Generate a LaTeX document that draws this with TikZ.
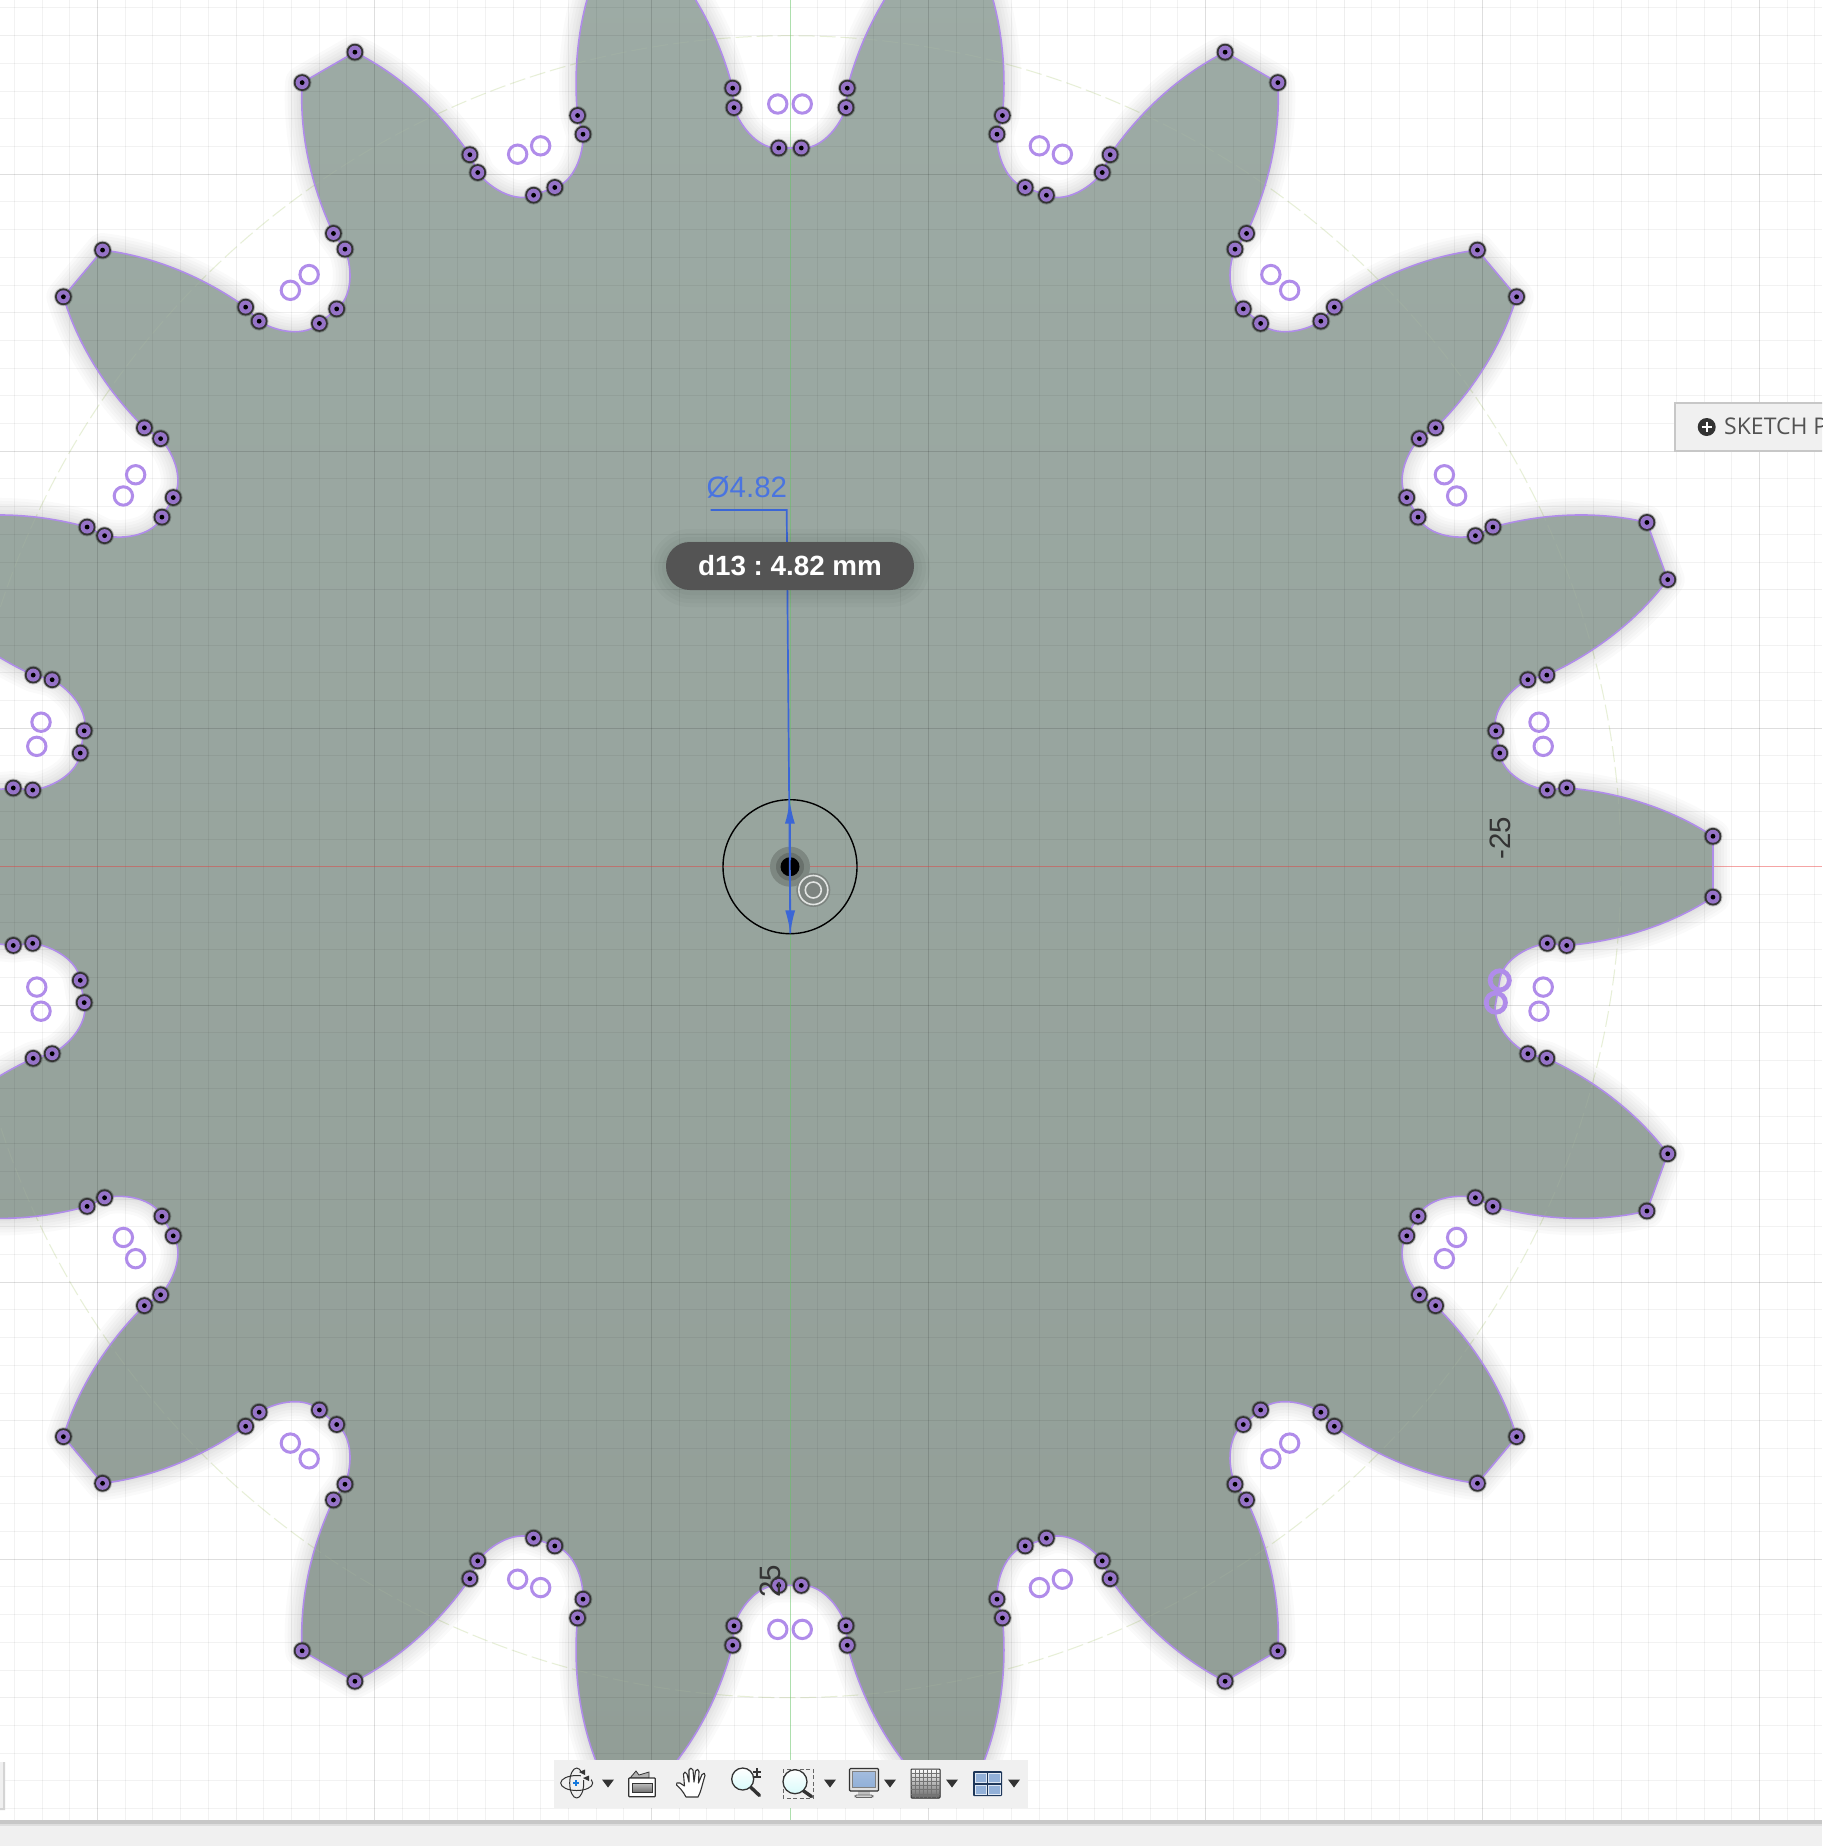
\documentclass[tikz,border=0pt]{standalone}
\usepackage{fontspec}
\setmainfont{Liberation Sans}
\newfontfamily\uifont{Open Sans}
\usetikzlibrary{arrows.meta}
\definecolor{gearT}{HTML}{9DABA5}
\definecolor{gearB}{HTML}{929E97}
\definecolor{sketchp}{HTML}{B08CEA}
\definecolor{dotp}{HTML}{9673C8}
\definecolor{dimblue}{HTML}{3B66D6}
\definecolor{dimtext}{HTML}{4A74E0}
\definecolor{panel}{HTML}{F0F0F0}
\definecolor{ink}{HTML}{333333}
\definecolor{paneblue}{HTML}{92B0D8}
\definecolor{pitch}{HTML}{CDDEAA}
\definecolor{axisg}{HTML}{6ED26E}
\tikzset{
  gear outline/.style={insert path={(-1.89:923.5)
    \foreach \A in {0,20,...,340}{
      -- ({\A+1.89}:923.5)
      .. controls ({\A+3.91}:880) and ({\A+5.19}:828.4) .. ({\A+5.79}:780.7)
      -- ({\A+5.78}:761.2)
      .. controls ({\A+6.21}:739.3) and ({\A+7.6}:718.2) .. ({\A+9.1}:718.8)
      -- ({\A+10.9}:718.8)
      .. controls ({\A+12.4}:718.2) and ({\A+13.79}:739.3) .. ({\A+14.22}:761.2)
      -- ({\A+14.21}:780.7)
      .. controls ({\A+14.81}:828.4) and ({\A+16.09}:880) .. ({\A+18.11}:923.5)
    } -- cycle}},
  glow/.style={draw=black,draw opacity=.02,line width=#1,line join=round},
  ringmark/.style={draw=sketchp,line width=3pt,fill=none},
  thickring/.style={draw=sketchp,line width=4.8pt,fill=none},
  tbtri/.style={fill=ink,draw=none},
  tbline/.style={draw=ink,line width=1.1pt,line join=round},
  dimline/.style={draw=dimblue,line width=1.7pt},
  dimhead/.style={dimline,-{Latex[length=23pt,width=10pt]}},
  axislabel/.style={text=ink,font=\fontsize{29.5}{32}\selectfont,rotate=90,inner sep=0pt},
}
\newcommand{\tbtriangle}[1]{\fill[tbtri] (#1-6,1779.5) -- (#1+6,1779.5) -- (#1,1787.5) -- cycle;}
\begin{document}
\frenchspacing
\begin{tikzpicture}[x=1pt,y=-1pt]
\path[use as bounding box] (0,0) rectangle (1822,1846);
\clip (0,0) rectangle (1822,1846);
\fill[white] (0,0) rectangle (1822,1846);

% pitch circle as seen on the white
\draw[pitch,opacity=.4,line width=1pt,dash pattern=on 16pt off 5pt] (790,866.7) circle[radius=831pt];

% gear shadow + body
\begin{scope}[shift={(790,866.7)}]
  \foreach \w in {34,28,22,16,10,5}{\path[gear outline,glow=\w pt];}
  \path[gear outline,top color=gearT,bottom color=gearB];
\end{scope}

% grid on top of everything so that it shows through the gear
\foreach \k in {-29,...,37}{
  \pgfmathsetmacro{\gx}{790+27.7*\k}
  \pgfmathtruncatemacro{\mten}{mod(\k+100,10)}
  \pgfmathtruncatemacro{\mfive}{mod(\k+100,5)}
  \ifnum\mten=5
    \draw[black,opacity=.13,line width=1.2pt] (\gx,0) -- (\gx,1820);
  \else\ifnum\mfive=0
    \draw[black,opacity=.065,line width=1pt] (\gx,0) -- (\gx,1820);
  \else
    \draw[black,opacity=.05,line width=1pt] (\gx,0) -- (\gx,1820);
  \fi\fi
}
\foreach \k in {-32,...,35}{
  \pgfmathsetmacro{\gy}{866.7+27.7*\k}
  \pgfmathtruncatemacro{\mten}{mod(\k+100,10)}
  \pgfmathtruncatemacro{\mfive}{mod(\k+100,5)}
  \ifnum\mten=5
    \draw[black,opacity=.13,line width=1.2pt] (0,\gy) -- (1822,\gy);
  \else\ifnum\mfive=0
    \draw[black,opacity=.065,line width=1pt] (0,\gy) -- (1822,\gy);
  \else
    \draw[black,opacity=.05,line width=1pt] (0,\gy) -- (1822,\gy);
  \fi\fi
}
% axes
\draw[red!75!white,opacity=.42,line width=1pt] (0,866.7) -- (1822,866.7);
\draw[axisg,opacity=.5,line width=1pt] (790,0) -- (790,1820);

\begin{scope}[shift={(790,866.7)}]
  % pitch circle, faint on the gear
  \draw[pitch,opacity=.1,line width=1pt,dash pattern=on 16pt off 5pt] (0,0) circle[radius=831pt];
  % outline
  \path[gear outline,draw=sketchp,line width=1.6pt,line join=round];
  % sketch points
  \foreach \A in {0,20,...,340}{
    \foreach \d/\r in {-1.89/923.5,1.89/923.5,5.79/780.7,5.78/761.2,9.1/718.8,10.9/718.8,14.22/761.2,14.21/780.7}{
      \pgfmathtruncatemacro{\skipit}{(\A==0 && (\d==9.1 || \d==10.9)) ? 1 : 0}
      \ifnum\skipit=0
        \fill[black,opacity=.22] ({\A+\d}:\r) circle[radius=9.4pt];
        \fill[ink] ({\A+\d}:\r) circle[radius=8.4pt];
        \fill[dotp] ({\A+\d}:\r) circle[radius=6.5pt];
        \fill[black] ({\A+\d}:\r) circle[radius=2.4pt];
      \fi
    }
    \draw[ringmark] ({\A+9.08}:762.8) circle[radius=9.2pt];
    \draw[ringmark] ({\A+10.92}:762.8) circle[radius=9.2pt];
  }
  \draw[thickring] (9.1:718.8) circle[radius=9.6pt];
  \draw[thickring] (10.9:718.8) circle[radius=9.6pt];
\end{scope}

% axis labels
\node[axislabel] (labx) at (1500,838) {-25};
\node[axislabel] (laby) at (770,1581.5) {25};

% centre marks
\fill[color={rgb,255:red,125;green,135;blue,129}] (790,866.7) circle[radius=20pt];
\fill[color={rgb,255:red,105;green,113;blue,108}] (790,866.7) circle[radius=14pt];
\fill[black] (790,866.7) circle[radius=9.5pt];
\fill[color={rgb,255:red,125;green,132;blue,128}] (813.3,890) circle[radius=17pt];
\draw[color={rgb,255:red,225;green,228;blue,226},line width=1.6pt] (813.3,890) circle[radius=14.5pt];
\draw[color={rgb,255:red,225;green,228;blue,226},line width=1.6pt] (813.3,890) circle[radius=8pt];
\draw[black,line width=1.4pt] (790,866.7) circle[radius=67pt];

% dimension
\coordinate (leadL) at (710.7,510);
\coordinate (leadC) at (786.7,510);
\coordinate (dimT) at (789.7,800.7);
\coordinate (dimB) at (790.3,933.3);
\draw[dimline] (leadL) -- (leadC) -- (dimB);
\draw[dimhead] (790.2,860) -- (dimT);
\draw[dimhead] (790,870) -- (dimB);
\node[text=dimtext,font=\fontsize{29.5}{32}\selectfont,inner sep=0pt,anchor=base west] (dimval) at (706.5,497.5) {Ø4.82};

% tooltip
\foreach \g in {16,12,8,4}{
  \fill[black,opacity=.022,rounded corners=24pt+\g pt] (666-\g,545-\g) rectangle (914+\g,591+\g);
}
\node[fill=black!67,text=white,font=\bfseries\fontsize{27.8}{30}\selectfont,rounded corners=23.7pt,minimum width=248pt,minimum height=48pt,inner sep=0pt] (pill) at (790,566) {d13 : 4.82 mm};

% sketch palette tab
\node[fill=panel,draw=black!22,line width=1.5pt,minimum width=170pt,minimum height=48pt,inner sep=0pt,anchor=north west] (tab) at (1674,402) {};
\fill[ink] (1706.7,427) circle[radius=9pt];
\draw[white,line width=2pt] (1701.5,427) -- (1712,427) (1706.7,421.7) -- (1706.7,432.3);
\node[text=black!68,font=\uifont\fontsize{23}{26}\selectfont,inner sep=0pt,anchor=base west] (tabtxt) at (1724,434) {SKETCH P};

% left stub
\fill[panel] (0,1762) rectangle (3,1808);
\fill[black!17] (3,1762) rectangle (5,1810) (0,1808) rectangle (5,1810);

% bottom bar
\fill[panel] (0,1826) rectangle (1822,1846);
\fill[black!22] (0,1820) rectangle (1822,1824);
\fill[black!13] (0,1824) rectangle (1822,1826);

% toolbar
\node[fill=panel,minimum width=474pt,minimum height=48pt,inner sep=0pt,anchor=north west] (toolbar) at (554,1760) {};
% orbit
\draw[tbline,line width=1pt] (576.7,1783) ellipse[x radius=16pt,y radius=7.5pt];
\draw[tbline,line width=1pt] (576.7,1783) ellipse[x radius=7pt,y radius=15pt];
\fill[panel] (581,1770) rectangle (591,1780);
\fill[ink] (579,1772) -- (585,1769.5) -- (585,1775) -- cycle;
\fill[ink] (583,1778) -- (589,1775.5) -- (589,1781) -- cycle;
\draw[color={rgb,255:red,20;green,120;blue,220},line width=1.2pt] (573,1783) -- (579,1783) (576,1780) -- (576,1786);
\tbtriangle{608}
% camera-like box
\fill[black!30,draw=ink,line width=.8pt] (630,1778) -- (636,1771) -- (639,1775) -- (649,1772) -- (649,1778) -- cycle;
\fill[white,draw=ink,line width=1.2pt,rounded corners=.8pt] (628.7,1778) rectangle (655.3,1796.7);
\fill[top color=black!25,bottom color=black!55,draw=ink,line width=.6pt] (632.5,1783) rectangle (652,1792);
% hand
\draw[tbline,fill=white] (686,1797) .. controls (683,1791) and (679,1787) .. (676.5,1785) .. controls (675,1783) and (678,1782) .. (680,1783) -- (684.5,1786)
  -- (683.5,1774) .. controls (683,1771.5) and (686.5,1771.5) .. (687,1774) -- (689,1782)
  -- (689,1770) .. controls (689,1767.5) and (692.5,1767.5) .. (693,1770) -- (694,1782)
  -- (695.5,1771) .. controls (696,1768.5) and (699.5,1769) .. (699,1771.5) -- (698.5,1783)
  -- (702,1774.5) .. controls (703,1772.5) and (706,1773) .. (705,1775.5)
  .. controls (702.5,1783) and (701,1792) .. (698,1797) -- cycle;
% zoom
\draw[ink,line width=3.4pt,line cap=round] (750.5,1787) -- (759.5,1795.5);
\draw[ink,line width=1.3pt,top color=white,bottom color=black!12!cyan!15] (742.7,1779) circle[radius=11pt];
\draw[ink,line width=1.1pt] (753,1772) -- (761,1772) (757,1768) -- (757,1776) (753,1777) -- (761,1777);
% zoom window
\draw[black!60,line width=1pt,dash pattern=on 4pt off 2.5pt] (783,1769) rectangle (813,1798);
\draw[ink,line width=3.4pt,line cap=round] (803,1790.5) -- (811.5,1796.5);
\draw[ink,line width=1.3pt,top color=white,bottom color=black!12!cyan!15] (795,1781.7) circle[radius=12pt];
\tbtriangle{830}
% monitor
\fill[black!25] (858,1791) rectangle (870,1795);
\fill[black!18,draw=black!60,line width=.8pt,rounded corners=1.5pt] (855,1795) rectangle (873,1797.5);
\fill[black!12,draw=ink,line width=1.1pt,rounded corners=1pt] (849.5,1768.5) rectangle (878.5,1791);
\fill[top color=paneblue!85,bottom color=paneblue,draw=black!50,line width=.5pt] (852.5,1771.5) rectangle (875.5,1787);
\tbtriangle{890}
% grid icon
\fill[top color=white,bottom color=black!60,draw=ink,line width=1pt,rounded corners=.8pt] (911,1769) rectangle (940,1798);
\foreach \q in {1,...,6}{
  \draw[black!55,line width=.5pt] (911+\q*4.14,1769) -- (911+\q*4.14,1798);
  \draw[black!55,line width=.5pt] (911,1769+\q*4.14) -- (940,1769+\q*4.14);
}
\tbtriangle{952}
% viewports
\fill[color={rgb,255:red,30;green,55;blue,90},rounded corners=1pt] (973,1771) rectangle (1002,1796);
\foreach \ux/\uy in {975/1773,988.5/1773,975/1785,988.5/1785}{
  \fill[paneblue,draw=white!70!paneblue,line width=.5pt] (\ux,\uy) rectangle (\ux+11.5,\uy+9);
}
\tbtriangle{1014}
\end{tikzpicture}
\end{document}
